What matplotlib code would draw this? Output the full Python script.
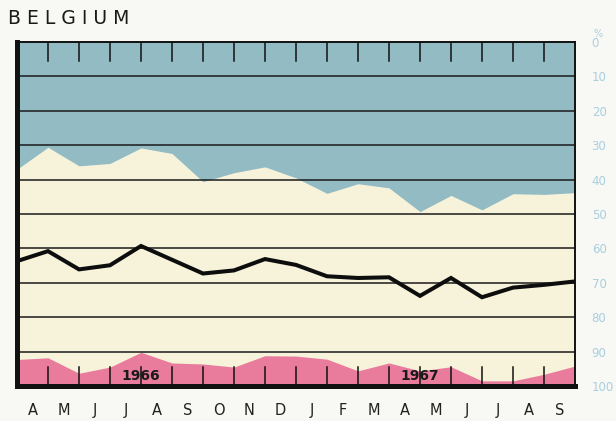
import matplotlib.pyplot as plt
import numpy as np

# month labels (April 1966 - September 1967)
months = ["A", "M", "J", "J", "A", "S", "O", "N", "D", "J", "F", "M",
          "A", "M", "J", "J", "A", "S"]

# values at month boundaries, % (0 at top)
blue_edge = [37.0, 30.6, 36.0, 35.3, 30.8, 32.4, 40.6, 38.0, 36.3, 39.5,
             44.0, 41.2, 42.4, 49.3, 44.6, 48.8, 44.1, 44.3, 43.8]
black_line = [63.7, 60.8, 66.1, 64.9, 59.3, 63.3, 67.3, 66.4, 63.1, 64.8,
              68.1, 68.6, 68.4, 73.8, 68.6, 74.2, 71.4, 70.6, 69.6]
pink_edge = [92.3, 91.8, 96.3, 94.5, 90.2, 93.3, 93.6, 94.5, 91.2, 91.3,
             92.2, 95.6, 93.3, 95.6, 94.4, 98.5, 98.5, 96.6, 94.2]
years = ["1966", "1967"]
year_pos = [4, 13]
pct_ticks = list(range(0, 101, 10))

BLUE = "#93bbc3"
CREAM = "#f6f3da"
PINK = "#e97b9c"
LABEL_BLUE = "#a9cfdf"

fig = plt.figure(figsize=(6.16, 4.21), dpi=100, facecolor="#f8f8f4")
ax = fig.add_axes([17 / 616, 1 - 386 / 421, 558 / 616, 344 / 421])
ax.set_facecolor(CREAM)

x = np.arange(len(blue_edge))
ax.fill_between(x, 0, blue_edge, color=BLUE, lw=0, zorder=1)
ax.fill_between(x, pink_edge, 100, color=PINK, lw=0, zorder=1)

for v in pct_ticks[1:-1]:
    ax.axhline(v, color="#1a1a1a", lw=1.1, zorder=2)

# year labels sit under the bottom tick marks
for yr, p in zip(years, year_pos):
    ax.text(p, 97.0, yr, ha="center", va="center", fontsize=10,
            fontweight="bold", color="#1a1a1a", zorder=3)

# short tick marks at month boundaries, top and bottom
for k in x[1:-1]:
    ax.plot([k, k], [0, 5.5], color="#111111", lw=1.1, zorder=4)
    ax.plot([k, k], [100, 94.6], color="#111111", lw=1.1, zorder=4)

ax.plot(x, black_line, color="#0d0d0d", lw=2.9, solid_joinstyle="miter", zorder=5)

ax.set_xlim(0, len(blue_edge) - 1)
ax.set_ylim(100, 0)

ax.set_xticks(x[:-1] + 0.5)
ax.set_xticklabels(months, fontsize=10.5, color="#222222")
ax.tick_params(axis="x", length=0, pad=12)

ax.yaxis.tick_right()
ax.set_yticks(pct_ticks)
ax.set_yticklabels([str(v) for v in pct_ticks], fontsize=8.5, color=LABEL_BLUE)
ax.tick_params(axis="y", length=0, pad=12)
ax.text(1.0 + 23 / 558, -1.0, "%", transform=ax.get_yaxis_transform(),
        ha="center", va="bottom", fontsize=7, color=LABEL_BLUE)

for side, w in [("left", 3.6), ("bottom", 3.6), ("top", 1.4), ("right", 1.4)]:
    ax.spines[side].set_linewidth(w)
    ax.spines[side].set_color("#111111")
    ax.spines[side].set_zorder(6)

fig.text(8 / 616, 1 - 19 / 421, "B E L G I U M", fontsize=13.5, color="#1a1a1a",
         ha="left", va="center")

fig.savefig("out.png", dpi=100, facecolor=fig.get_facecolor())
